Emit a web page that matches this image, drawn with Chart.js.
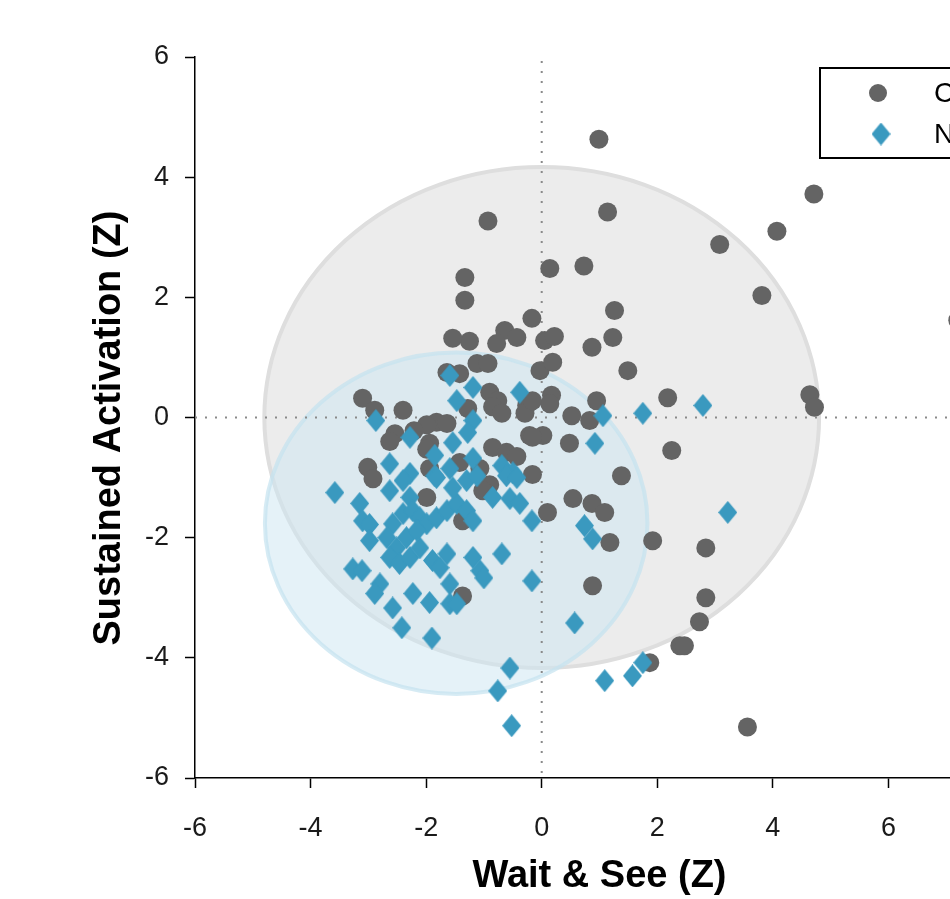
<!DOCTYPE html>
<html>
<head>
<meta charset="utf-8">
<script src="https://cdn.jsdelivr.net/npm/chart.js@4.4.0/dist/chart.umd.min.js"></script>
<style>
  html, body { margin: 0; padding: 0; background: #fff; overflow: hidden; }
  #wrap { width: 950px; height: 899px; overflow: hidden; position: relative; }
  canvas { position: absolute; left: 0; top: 0; }
</style>
</head>
<body>
<div id="wrap"><canvas id="myChart" width="1050" height="899"></canvas></div>
<script>
// group labels (legend is cut off at the right edge in the reference)
const groupLabels = ["Control", "Non-control"];

// gray circles
const grayX = [0.99, 1.14, -0.93, 0.14, 0.73, -1.33, -1.33, 1.26, 3.08, 4.07,
  4.71, 3.81, 4.64, 4.72, 7.20, 3.56, -0.17, -0.64, -0.43, -0.78,
  -1.25, -1.54, 0.05, 0.22, -1.12, -0.93, -0.03, 0.19, -1.64, -1.42,
  -3.10, -2.89, -2.40, -0.90, -0.76, -0.85, -0.69, -1.28, 0.17, 0.14,
  -0.26, -0.29, -1.82, -1.64, -1.99, -2.21, -2.54, -2.63, -1.94, -1.99,
  -0.21, 0.02, -0.85, -0.61, -0.43, -3.01, -2.92, -1.94, -0.16, -1.42,
  -1.07, -1.99, -0.90, -1.02, -1.37, 0.10, -1.37, 1.23, 0.87, 1.49,
  2.18, 2.25, 0.95, 0.83, 0.52, 0.48, 1.38, 0.54, 0.87, 1.09,
  1.18, 1.92, -0.16, -0.16, 2.84, 0.88, 2.84, 2.73, 2.39, 2.47, 1.87];
const grayY = [4.63, 3.42, 3.27, 2.48, 2.52, 2.33, 1.95, 1.78, 2.88, 3.10,
  3.72, 2.03, 0.38, 0.17, 1.62, -5.15, 1.65, 1.45, 1.33, 1.23,
  1.27, 1.32, 1.28, 1.35, 0.90, 0.90, 0.78, 0.92, 0.75, 0.73,
  0.32, 0.12, 0.12, 0.42, 0.28, 0.18, 0.07, 0.15, 0.37, 0.23,
  0.20, 0.07, -0.08, -0.10, -0.12, -0.22, -0.27, -0.40, -0.43, -0.53,
  -0.30, -0.30, -0.50, -0.58, -0.65, -0.83, -1.02, -0.85, -0.95, -0.75,
  -0.85, -1.33, -1.12, -1.22, -1.72, -1.58, -2.97, 1.33, 1.17, 0.78,
  0.33, -0.55, 0.28, -0.05, 0.03, -0.43, -0.97, -1.35, -1.43, -1.58,
  -2.08, -2.05, 0.28, -0.33, -2.17, -2.80, -3.00, -3.40, -3.80, -3.80, -4.08];

// blue diamonds
const blueX = [-1.59, -1.19, -0.38, -1.47, -2.87, -1.19, -1.28, -2.28, -1.54, -1.85,
  -2.63, -2.28, -1.59, -1.19, -0.69, -0.50, -1.85, -3.58, -3.15, -3.10,
  -2.98, -2.98, -2.63, -2.40, -2.28, -2.58, -2.40, -2.23, -2.11, -1.99,
  -1.82, -1.64, -1.47, -1.30, -1.19, -2.68, -2.51, -2.63, -2.46, -2.28,
  -2.11, -2.34, -2.16, -1.89, -1.64, -1.76, -1.19, -1.07, -1.00, -0.69,
  -3.27, -3.11, -2.80, -2.89, -2.23, -1.94, -1.59, -1.59, -1.47, -2.58,
  -2.42, -1.90, -0.17, -0.17, -0.85, -0.55, -0.38, -1.82, -1.54, -1.30,
  -1.12, -0.61, -0.43, -0.55, -0.76, -0.52, 0.57, 1.09, 1.57, 1.75,
  1.06, 1.75, 0.92, 0.74, 0.88, 2.79, 3.22];
const blueY = [0.70, 0.50, 0.42, 0.28, -0.05, -0.05, -0.25, -0.33, -0.42, -0.63,
  -0.77, -0.93, -0.85, -0.68, -0.80, -0.92, -0.97, -1.25, -1.43, -1.72,
  -1.78, -2.05, -1.22, -1.05, -1.33, -1.77, -1.60, -1.55, -1.67, -1.77,
  -1.67, -1.55, -1.43, -1.55, -1.72, -2.00, -2.17, -2.33, -2.43, -2.33,
  -2.17, -2.00, -1.88, -2.38, -2.27, -2.50, -2.33, -2.55, -2.67, -2.27,
  -2.52, -2.55, -2.77, -2.93, -2.93, -3.08, -2.77, -3.10, -3.10, -3.17,
  -3.50, -3.67, -2.72, -1.72, -1.33, -1.35, -1.43, -1.00, -1.17, -1.05,
  -0.97, -0.97, -1.00, -4.17, -4.55, -5.13, -3.42, -4.38, -4.30, -4.08,
  0.03, 0.07, -0.43, -1.80, -2.02, 0.20, -1.58];

// group ellipses: gray, blue
const ellipseCX = [0, -1.48];
const ellipseCY = [0, -1.76];
const ellipseRX = [4.8, 3.31];
const ellipseRY = [4.17, 2.84];

const grayColor = "#646464";
const blueColor = "#3a99bf";

function makeDiamond(color, w, h) {
  const c = document.createElement("canvas");
  c.width = w;
  c.height = h;
  const g = c.getContext("2d");
  g.fillStyle = color;
  g.beginPath();
  g.moveTo(w / 2, 0);
  g.lineTo(w, h / 2);
  g.lineTo(w / 2, h);
  g.lineTo(0, h / 2);
  g.closePath();
  g.fill();
  return c;
}
const diamond = makeDiamond(blueColor, 19, 23);

const grayPoints = grayX.map((x, i) => ({ x: x, y: grayY[i] }));
const bluePoints = blueX.map((x, i) => ({ x: x, y: blueY[i] }));

// ellipses + dotted zero lines behind the points
const backdrop = {
  id: "backdrop",
  beforeDatasetsDraw(chart) {
    const { ctx, chartArea } = chart;
    const xs = chart.scales.x;
    const ys = chart.scales.y;
    const fills = ["#ececec", "rgba(206,230,242,0.53)"];
    const strokes = ["#dedede", "rgba(196,226,240,0.7)"];
    ctx.save();
    for (let i = 0; i < ellipseCX.length; i++) {
      const cx = xs.getPixelForValue(ellipseCX[i]);
      const cy = ys.getPixelForValue(ellipseCY[i]);
      const rx = Math.abs(xs.getPixelForValue(ellipseCX[i] + ellipseRX[i]) - cx);
      const ry = Math.abs(ys.getPixelForValue(ellipseCY[i] + ellipseRY[i]) - cy);
      ctx.beginPath();
      ctx.ellipse(cx, cy, rx, ry, 0, 0, Math.PI * 2);
      ctx.fillStyle = fills[i];
      ctx.fill();
      ctx.lineWidth = 4;
      ctx.strokeStyle = strokes[i];
      ctx.stroke();
    }
    ctx.setLineDash([2, 8]);
    ctx.lineWidth = 2;
    ctx.strokeStyle = "#8a8a8a";
    const x0 = xs.getPixelForValue(0);
    const y0 = ys.getPixelForValue(0);
    ctx.beginPath();
    ctx.moveTo(x0, chartArea.top + 4);
    ctx.lineTo(x0, chartArea.bottom);
    ctx.moveTo(chartArea.left, y0);
    ctx.lineTo(chartArea.right, y0);
    ctx.stroke();
    ctx.restore();
  },
};

// boxed legend in the upper right corner
const boxLegend = {
  id: "boxLegend",
  afterDraw(chart) {
    const ctx = chart.ctx;
    const left = 820, top = 68, w = 220, h = 90;
    ctx.save();
    ctx.fillStyle = "#fff";
    ctx.fillRect(left, top, w, h);
    ctx.lineWidth = 2;
    ctx.strokeStyle = "#000";
    ctx.strokeRect(left, top, w, h);
    ctx.fillStyle = grayColor;
    ctx.beginPath();
    ctx.arc(878, 93, 9, 0, Math.PI * 2);
    ctx.fill();
    ctx.drawImage(diamond, 881 - diamond.width / 2, 134 - diamond.height / 2);
    ctx.fillStyle = "#000";
    ctx.font = "28px 'Liberation Sans', Arial, sans-serif";
    ctx.textBaseline = "middle";
    ctx.fillText(chart.data.datasets[0].label, 934, 94);
    ctx.fillText(chart.data.datasets[1].label, 934, 135);
    ctx.restore();
  },
};

const tickFont = { family: "'Liberation Sans', Arial, sans-serif", size: 27 };
const titleFont = { family: "'Liberation Sans', Arial, sans-serif", size: 38, weight: "bold" };

new Chart("myChart", {
  type: "scatter",
  data: {
    datasets: [
      {
        label: groupLabels[0],
        data: grayPoints,
        backgroundColor: grayColor,
        borderWidth: 0,
        pointRadius: 9.5,
        pointHoverRadius: 9.5,
        order: 2,
      },
      {
        label: groupLabels[1],
        data: bluePoints,
        pointStyle: diamond,
        backgroundColor: blueColor,
        borderWidth: 0,
        order: 1,
      },
    ],
  },
  options: {
    responsive: false,
    animation: false,
    layout: { padding: { top: 57, right: 46, left: 0, bottom: 0 } },
    plugins: {
      legend: { display: false },
      tooltip: { enabled: false },
    },
    scales: {
      x: {
        type: "linear",
        min: -6,
        max: 8,
        ticks: { stepSize: 2, font: tickFont, color: "#1a1a1a", padding: 24, maxRotation: 0 },
        grid: { display: true, drawOnChartArea: false, drawTicks: true, tickLength: 10, tickColor: "#000", tickWidth: 1.5 },
        border: { display: true, color: "#000", width: 1.5 },
        title: { display: true, text: "Wait & See (Z)", font: titleFont, color: "#000", padding: { top: 0, bottom: 0 } },
        afterFit(scale) { scale.height = 121; },
      },
      y: {
        type: "linear",
        min: -6,
        max: 6,
        ticks: { stepSize: 2, font: tickFont, color: "#1a1a1a", padding: 16 },
        grid: { display: true, drawOnChartArea: false, drawTicks: true, tickLength: 10, tickColor: "#000", tickWidth: 1.5 },
        border: { display: true, color: "#000", width: 1.5 },
        title: { display: true, text: "Sustained Activation (Z)\u00a0\u00a0", font: titleFont, color: "#000", padding: { top: 87, bottom: 0 } },
        afterFit(scale) { scale.width = 195; },
      },
    },
  },
  plugins: [backdrop, boxLegend],
});
</script>
</body>
</html>
